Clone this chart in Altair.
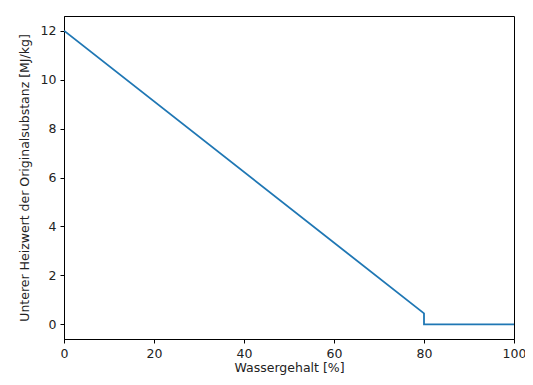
import altair as alt
import pandas as pd

wassergehalt = [0, 80, 80, 100]
heizwert = [12.0, 0.448, 0.0, 0.0]
order = [0, 1, 2, 3]

df = pd.DataFrame({"w": wassergehalt, "h": heizwert, "o": order})

chart = alt.Chart(df).mark_line(color="#1f77b4", strokeWidth=1.8, clip=True).encode(
    x=alt.X("w:Q", scale=alt.Scale(domain=[0, 100], nice=False, zero=False),
            axis=alt.Axis(values=[0, 20, 40, 60, 80, 100], title="Wassergehalt [%]",
                          grid=False, tickSize=4, labelPadding=4, labelFlush=False, titlePadding=2)),
    y=alt.Y("h:Q", scale=alt.Scale(domain=[-0.6, 12.6], nice=False, zero=False),
            axis=alt.Axis(values=[0, 2, 4, 6, 8, 10, 12], title="Unterer Heizwert der Originalsubstanz [MJ/kg]",
                          grid=False, tickSize=4, labelPadding=4, labelFlush=False, titlePadding=9)),
    order="o:Q",
).properties(
    width=450, height=323,
    autosize=alt.AutoSizeParams(type="none"),
    padding={"left": 56, "top": 8, "right": 11, "bottom": 38},
).configure_axis(
    domainColor="black", tickColor="black", labelColor="#222", titleColor="#222",
    labelFont="DejaVu Sans", titleFont="DejaVu Sans", labelFontSize=12.5, titleFontSize=12.5,
    titleFontWeight="normal", domainWidth=1, tickWidth=1,
).configure_view(stroke="black", strokeWidth=1)

chart.save("out.html", embed_options={"renderer": "svg", "actions": False})
